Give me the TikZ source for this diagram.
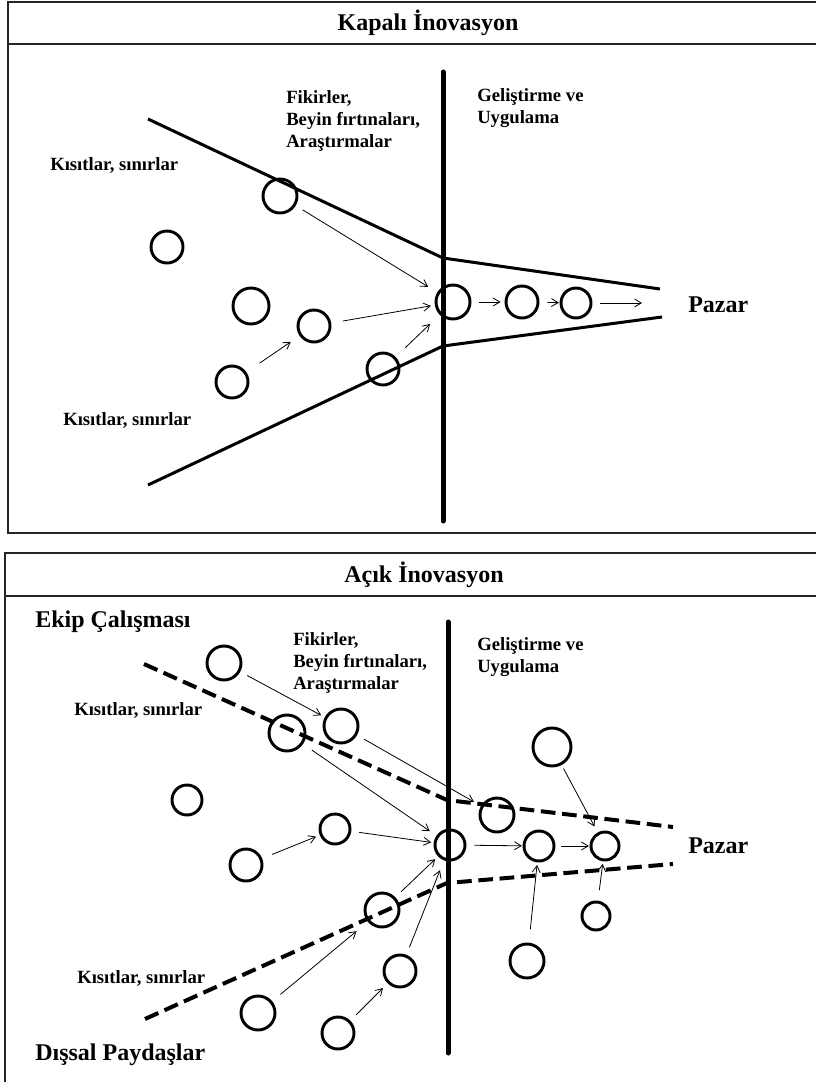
\documentclass[tikz,border=0pt]{standalone}
\usepackage{fontspec}
\setmainfont{Liberation Serif}
\usetikzlibrary{arrows.meta}

\begin{document}
\begin{tikzpicture}[
  x=0.75pt, y=-0.75pt,
  panel/.style={draw=black!85, line width=1pt},
  wall/.style={line width=3.75pt, line cap=round},
  bound/.style={line width=2.25pt, line join=round},
  dbound/.style={line width=3pt, dash pattern=on 11pt off 5pt},
  idea/.style={circle, draw, line width=2.2pt, inner sep=0pt, minimum size=#1*1.5pt},
  arr/.style={-{Straight Barb[length=5pt,width=6pt]}, line width=0.6pt, shorten <=6pt, shorten >=3pt},
  lbl/.style={anchor=west, inner sep=0pt, align=left, font=\fontsize{14}{16.5}\selectfont\bfseries},
  big/.style={anchor=west, inner sep=0pt, font=\fontsize{18}{21}\selectfont\bfseries}
]
  \useasboundingbox (0,0) rectangle (816,1082);

  % Kapali inovasyon
  \draw[panel] (8,2) rectangle (850,533);
  \draw[panel] (8,44) -- (850,44);
  \node[big, anchor=center] (ktitle) at (428,23) {Kapalı İnovasyon};
  \draw[wall] (443,72) -- (443,521);
  \draw[bound] (148,119) -- (443,258) -- (660,289);
  \draw[bound] (148,485) -- (443,346) -- (662,317);

  \node[lbl] (kfikir) at (286,121) {Fikirler,\\Beyin fırtınaları,\\Araştırmalar};
  \node[lbl] (kgelis) at (477,108) {Geliştirme ve\\Uygulama};
  \node[lbl] (kkisit1) at (50,165) {Kısıtlar, sınırlar};
  \node[lbl] (kkisit2) at (63,420) {Kısıtlar, sınırlar};
  \node[big] (kpazar) at (688,305) {Pazar};

  \node[idea=17] (k1) at (280,196) {};
  \node[idea=16] (k2) at (167,247) {};
  \node[idea=18] (k3) at (251,306) {};
  \node[idea=16] (k4) at (314,326) {};
  \node[idea=16] (k5) at (232,382) {};
  \node[idea=16] (k6) at (383,369) {};
  \node[idea=17] (k7) at (453,302) {};
  \node[idea=16] (k8) at (522,302) {};
  \node[idea=15] (k9) at (576,303) {};
  \coordinate (kend) at (642,303);

  \draw[arr, shorten >=8pt] (k1) -- (k7);
  \draw[arr, shorten <=9pt] (k4) -- (k7);
  \draw[arr, shorten <=10pt, shorten >=10pt] (k6) -- (k7);
  \draw[arr, shorten <=12pt, shorten >=8pt] (k5) -- (k4);
  \draw[arr] (k7) -- (k8);
  \draw[arr, shorten >=0.5pt] (k8) -- (k9);
  \draw[arr, shorten >=0pt] (k9) -- (kend);

  % Acik inovasyon
  \draw[panel] (5,553) rectangle (850,1095);
  \draw[panel] (5,596) -- (850,596);
  \node[big, anchor=center] (atitle) at (424,575) {Açık İnovasyon};
  \draw[wall] (448,622) -- (448,1053);
  \draw[dbound] (144,664) -- (447,800) -- (673,827);
  \draw[dbound] (145,1019) -- (447,883) -- (673,864);

  \node[big] (aekip) at (35,622) {Ekip Çalışması};
  \node[lbl] (afikir) at (293,663) {Fikirler,\\Beyin fırtınaları,\\Araştırmalar};
  \node[lbl] (agelis) at (477,657) {Geliştirme ve\\Uygulama};
  \node[lbl] (akisit1) at (74,710) {Kısıtlar, sınırlar};
  \node[lbl] (akisit2) at (77,978) {Kısıtlar, sınırlar};
  \node[big] (apazar) at (688,846) {Pazar};
  \node[big] (adissal) at (35,1055) {Dışsal Paydaşlar};

  \node[idea=17] (a1) at (224,663) {};
  \node[idea=17] (a2) at (341,726) {};
  \node[idea=18] (a3) at (287,733) {};
  \node[idea=15] (a4) at (187,800) {};
  \node[idea=15] (a5) at (335,829) {};
  \node[idea=16] (a6) at (246,865) {};
  \node[idea=15] (a7) at (450,845) {};
  \node[idea=17] (a8) at (497,815) {};
  \node[idea=19] (a9) at (552,747) {};
  \node[idea=15] (a10) at (539,846) {};
  \node[idea=14] (a11) at (605,846) {};
  \node[idea=14] (a12) at (596,916) {};
  \node[idea=17] (a13) at (382,910) {};
  \node[idea=16] (a14) at (400,971) {};
  \node[idea=17] (a15) at (527,961) {};
  \node[idea=17] (a16) at (258,1013) {};
  \node[idea=16] (a17) at (338,1033) {};

  \draw[arr] (a1) -- (a2);
  \draw[arr, shorten >=6pt] (a2) -- (a8);
  \draw[arr, shorten <=8pt, shorten >=6pt] (a3) -- (a7);
  \draw[arr, shorten >=2pt] (a5) -- (a7);
  \draw[arr, shorten <=8pt] (a6) -- (a5);
  \draw[arr] (a13) -- (a7);
  \draw[arr, shorten >=8pt] (a14) -- (a7);
  \draw[arr, shorten <=8pt, shorten >=11pt] (a16) -- (a13);
  \draw[arr, shorten >=5pt] (a17) -- (a14);
  \draw[arr, shorten >=0.5pt] (a7) -- (a10);
  \draw[arr, shorten <=4pt, shorten >=0.5pt] (a10) -- (a11);
  \draw[arr, shorten <=3pt, shorten >=5pt] (a9) -- (a11);
  \draw[arr, shorten <=10pt, shorten >=2pt] (a15) -- (a10);
  \draw[arr, shorten <=8pt, shorten >=2pt] (a12) -- (a11);
\end{tikzpicture}
\end{document}
